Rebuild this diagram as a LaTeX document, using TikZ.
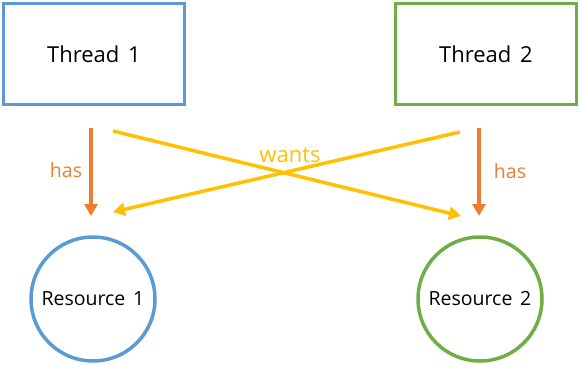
\documentclass[tikz,border=0pt]{standalone}
\usepackage{fontspec}
\setmainfont{Open Sans}
\usetikzlibrary{arrows.meta}
\definecolor{cblue}{HTML}{5B9BD5}
\definecolor{cgreen}{HTML}{70AD47}
\definecolor{corange}{HTML}{ED7D31}
\definecolor{cyellow}{HTML}{FFC000}
\begin{document}
\begin{tikzpicture}[x=1pt,y=-1pt,
  threadbox/.style={draw,line width=3.5pt,minimum width=181pt,minimum height=101pt,inner sep=0pt,font=\fontsize{22}{26}\selectfont},
  resbox/.style={draw,circle,line width=3.5pt,minimum size=124pt,inner sep=0pt,font=\fontsize{19.5}{23}\selectfont},
  hasarrow/.style={draw=corange,line width=3.5pt,-{Triangle[width=13pt,length=12pt]}},
  wantarrow/.style={draw=cyellow,line width=3.5pt,-{Triangle[width=13pt,length=12pt]}},
  lbl/.style={font=\fontsize{19.5}{23}\selectfont}]
\useasboundingbox (0,0) rectangle (581,365);
\node[threadbox,draw=cblue] (t1) at (94,54) {Thread\hspace{0.4em}1};
\node[threadbox,draw=cgreen] (t2) at (486,54) {Thread\hspace{0.4em}2};
\node[resbox,draw=cblue] (r1) at (93,299) {Resource\hspace{0.4em}1};
\node[resbox,draw=cgreen] (r2) at (480,299) {Resource\hspace{0.4em}2};
\coordinate (h1s) at (91,128);
\coordinate (h1e) at (91,216);
\coordinate (h2s) at (479,128);
\coordinate (h2e) at (479,216);
\coordinate (w1s) at (113,131);
\coordinate (w1e) at (461,216);
\coordinate (w2s) at (460,132);
\coordinate (w2e) at (113,212);
\draw[hasarrow] (h1s) -- (h1e);
\draw[hasarrow] (h2s) -- (h2e);
\draw[wantarrow] (w1s) -- (w1e);
\draw[wantarrow] (w2s) -- (w2e);
\node[lbl,text=corange] (has1) at (66,170) {has};
\node[lbl,text=corange] (has2) at (510,171) {has};
\node[lbl,text=cyellow,font=\fontsize{22}{26}\selectfont] (wants) at (290,155) {wants};
\end{tikzpicture}
\end{document}
